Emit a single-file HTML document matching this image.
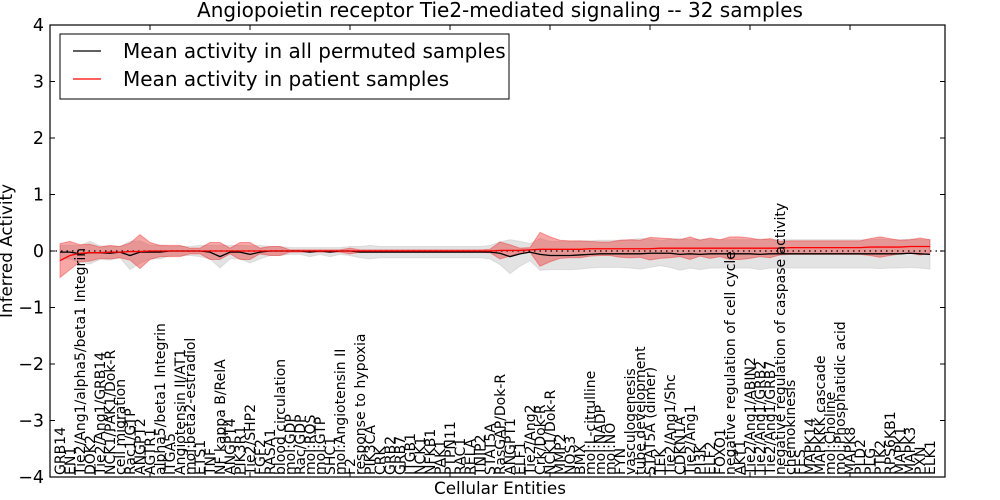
<!DOCTYPE html>
<html><head><meta charset="utf-8"><style>
body{margin:0;background:#fff;}
svg{display:block;font-family:"DejaVu Sans","Liberation Sans",sans-serif;}
</style></head><body>
<svg id="chart" width="1000" height="500" viewBox="0 0 1000 500">
<text x="500" y="17" text-anchor="middle" font-size="20">Angiopoietin receptor Tie2-mediated signaling -- 32 samples</text>
<g id="plot"></g>
<text x="500" y="494" text-anchor="middle" font-size="16.8">Cellular Entities</text>
<text transform="translate(12,251) rotate(-90)" text-anchor="middle" font-size="16.8">Inferred Activity</text>
</svg>
<script>
const categories=["GRB14","EN1","Tie2/Ang1/alpha5/beta1 Integrin","DOK2","Tie2/Ang1/GRB14","NCK1/PAK1/Dok-R","cell migration","Rac1/GTP","ANGPT2","AGTR1","alpha5/beta1 Integrin","ITGA5","Angiotensin II/AT1","mol:beta2-estradiol","ETS1","TNF","NF kappa B/RelA","ANGPT4","PIK3R1","Tie2/SHP2","FGF2","RASA1","blood circulation","mol:GDP","Rac/GDP","mol:ROS","mol:GTP","SHC1","mol:Angiotensin II","F2","response to hypoxia","PIK3CA","CRK","GRB2","GRB7","ITGB1","NCK1","NFKB1","PAK1","PTPN11","RAC1","RELA","TNIP2","STAT5A","RasGAP/Dok-R","ANGPT1","ELF1","Tie2/Ang2","Crk/Dok-R","NCK1/Dok-R","MMP2","NOS3","BMX","mol:L-citrulline","mol:NADP","mol:NO","FYN","vasculogenesis","tube development","STAT5A (dimer)","TEK","Tie2/Ang1/Shc","CDKN1A","Tie2/Ang1","PI3K","ELF2","FOXO1","negative regulation of cell cycle","AKT1","Tie2/Ang1/ABIN2","Tie2/Ang1/GRB2","Tie2/Ang1/GRB7","negative regulation of caspase activity","chemokinesis","FES","MAPK14","MAPKKK cascade","mol:Choline","mol:Phosphatidic acid","MAPK8","PLD2","PLG","PTK2","RPS6KB1","MAPK1","MAPK3","PXN","ELK1"];
const patientMean=[-0.17,-0.08,-0.04,-0.03,-0.03,-0.02,-0.02,-0.01,-0.01,0,0,0,0,0,0,0,0,0,0,0,0,0,0,0,0,0,0,0,0,0,0,0,0,0,0,0,0,0,0,0,0,0,0,0,0.01,0.01,0.01,0.02,0.03,0.03,0.03,0.03,0.03,0.04,0.04,0.04,0.04,0.04,0.04,0.04,0.05,0.05,0.05,0.05,0.05,0.05,0.05,0.05,0.05,0.05,0.05,0.05,0.05,0.06,0.06,0.06,0.06,0.06,0.06,0.06,0.06,0.07,0.07,0.07,0.07,0.08,0.08,0.08];
const patientHalf=[0.3,0.25,0.15,0.15,0.1,0.12,0.1,0.15,0.3,0.15,0.1,0.1,0.1,0.05,0.05,0.15,0.15,0.05,0.15,0.15,0.05,0.08,0.08,0.02,0.02,0.02,0.02,0.02,0.02,0.05,0.02,0.02,0.02,0.02,0.02,0.02,0.02,0.02,0.02,0.02,0.02,0.02,0.02,0.03,0.15,0.1,0.04,0.04,0.3,0.22,0.16,0.15,0.15,0.13,0.12,0.12,0.15,0.16,0.15,0.2,0.18,0.17,0.15,0.2,0.14,0.18,0.15,0.2,0.2,0.18,0.15,0.17,0.12,0.12,0.12,0.12,0.12,0.12,0.12,0.12,0.12,0.15,0.18,0.15,0.12,0.12,0.15,0.12];
const permMean=[-0.02,-0.02,-0.05,-0.03,-0.03,-0.04,-0.02,-0.08,-0.02,-0.02,-0.02,0,0,0,0,-0.02,-0.1,-0.02,-0.02,-0.06,-0.02,0,0,0,0,-0.02,0,-0.02,0,0,-0.02,-0.02,-0.02,-0.02,-0.02,-0.02,-0.02,-0.02,-0.02,-0.02,-0.02,-0.02,-0.02,-0.02,-0.04,-0.1,-0.05,-0.02,-0.06,-0.08,-0.08,-0.08,-0.07,-0.06,-0.05,-0.05,-0.05,-0.05,-0.05,-0.04,-0.04,-0.04,-0.06,-0.05,-0.06,-0.05,-0.05,-0.05,-0.05,-0.05,-0.06,-0.05,-0.05,-0.05,-0.05,-0.05,-0.05,-0.05,-0.05,-0.05,-0.05,-0.05,-0.05,-0.05,-0.05,-0.04,-0.05,-0.06];
const permHalf=[0.12,0.12,0.15,0.2,0.12,0.12,0.1,0.25,0.2,0.12,0.12,0.08,0.08,0.08,0.1,0.12,0.2,0.12,0.12,0.15,0.12,0.08,0.08,0.06,0.06,0.08,0.06,0.08,0.06,0.08,0.1,0.12,0.1,0.1,0.1,0.1,0.1,0.1,0.1,0.1,0.1,0.1,0.1,0.12,0.2,0.3,0.22,0.15,0.28,0.25,0.25,0.25,0.25,0.24,0.24,0.24,0.24,0.25,0.27,0.25,0.22,0.25,0.28,0.25,0.27,0.25,0.25,0.25,0.25,0.25,0.27,0.25,0.25,0.25,0.25,0.25,0.25,0.25,0.25,0.25,0.25,0.25,0.26,0.25,0.25,0.25,0.25,0.26];
const yTicks=[-4,-3,-2,-1,0,1,2,3,4];
const xTicks=[10,20,30,40,50,60,70,80];

const NS="http://www.w3.org/2000/svg";
const L=50,R=945,T=25,B=477,XMAX=89.5;
const xs=v=>L+(v/XMAX)*(R-L);
const ys=v=>T+(4-v)/8*(B-T);
const g=document.getElementById('plot');
function mk(tag,attrs,parent){const e=document.createElementNS(NS,tag);for(const k in attrs)e.setAttribute(k,attrs[k]);(parent||g).appendChild(e);return e;}
function band(mean,half,fill,op,name){
  let up=mean.map((m,i)=>xs(i+1)+','+ys(m+half[i]));
  let dn=mean.map((m,i)=>xs(i+1)+','+ys(m-half[i])).reverse();
  const p=mk('polygon',{points:up.concat(dn).join(' '),fill:fill,'fill-opacity':op,stroke:fill,'stroke-opacity':op,'stroke-width':1});
  
  
}
band(permMean,permHalf,'#c8c8c8',0.5,'permuted-band');
band(patientMean,patientHalf,'#ee2222',0.4,'patient-band');
const zl=mk('line',{x1:L,x2:R,y1:ys(0),y2:ys(0),stroke:'#000','stroke-dasharray':'1.5,4','stroke-width':1.2});


function line(mean,col,name){
  const p=mk('polyline',{points:mean.map((m,i)=>xs(i+1)+','+ys(m)).join(' '),fill:'none',stroke:col,'stroke-width':1.3});
  
  
}
line(permMean,'#000','permuted-mean-line');
line(patientMean,'#ff0000','patient-mean-line');
const fr=mk('rect',{x:L,y:T,width:R-L,height:B-T,fill:'none',stroke:'#000','stroke-width':1.2});


yTicks.forEach(v=>{
  const y=ys(v);
  mk('line',{x1:L,x2:L+5,y1:y,y2:y,stroke:'#000'});
  mk('line',{x1:R,x2:R-5,y1:y,y2:y,stroke:'#000'});
  const t=mk('text',{x:L-6,y:y+6,'text-anchor':'end','font-size':17.5});
  t.textContent=(v<0?'\u2212'+(-v):String(v));
  
  
});
xTicks.forEach(v=>{
  const x=xs(v);
  mk('line',{x1:x,x2:x,y1:T,y2:T+5,stroke:'#000'});
  mk('line',{x1:x,x2:x,y1:B,y2:B-5,stroke:'#000'});
});
categories.forEach((c,i)=>{
  const x=xs(i+1)+5;
  const t=mk('text',{transform:'translate('+x+','+(B-2)+') rotate(-90)','font-size':14});
  t.textContent=c;
  
  
});
const lg=mk('g',{});


mk('rect',{x:60,y:34,width:449,height:65,fill:'#fff',stroke:'#000','stroke-width':1},lg);
mk('line',{x1:73,x2:101,y1:51,y2:51,stroke:'#000','stroke-width':1.3},lg);
mk('line',{x1:73,x2:101,y1:79,y2:79,stroke:'#ff0000','stroke-width':1.3},lg);
const l1=mk('text',{x:123,y:58,'font-size':20},lg);l1.textContent='Mean activity in all permuted samples';


const l2=mk('text',{x:123,y:86,'font-size':20},lg);l2.textContent='Mean activity in patient samples';


</script>
</body></html>
